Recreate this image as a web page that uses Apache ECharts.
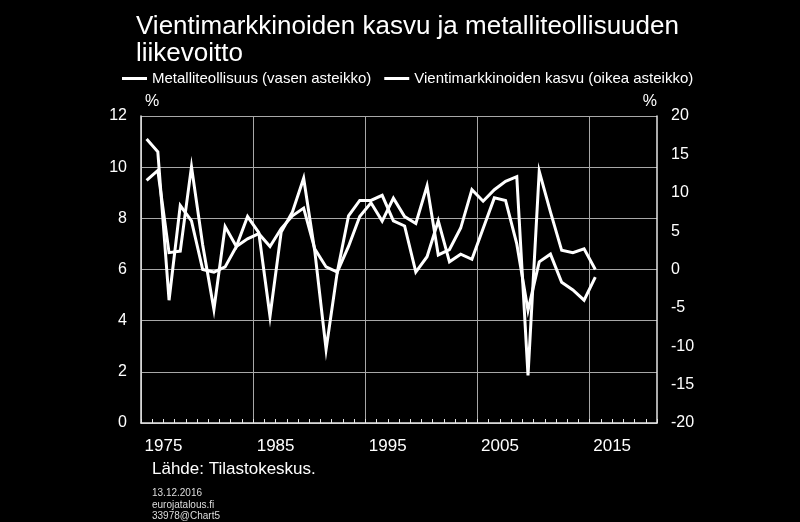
<!DOCTYPE html>
<html>
<head>
<meta charset="utf-8">
<script src="https://cdn.jsdelivr.net/npm/echarts@6/dist/echarts.min.js"></script>
<style>
	html, body { margin: 0; padding: 0; background: #000; }
	#chart { width: 800px; height: 522px; }
</style>
</head>
<body>
<div id="chart"></div>
<script>
// vuosikategoriat (yksi kaista per vuosi) ja vuosirajat akselin merkinnöille
var years = [];
for (var y = 1973; y <= 2018; y++) years.push(String(y));
var yearBounds = [];
for (var y = 1973; y <= 2019; y++) yearBounds.push(String(y));

// Metalliteollisuus, liikevoitto % (vasen asteikko)
var metalli = [11.1, 10.6, 4.8, 8.5, 7.9, 6.0, 5.9, 6.1, 6.9, 7.2, 7.4, 6.9, 7.6, 8.1, 8.4, 6.8, 6.1, 5.9, 8.1, 8.7,
	8.7, 8.9, 7.9, 7.7, 5.9, 6.5, 7.9, 6.3, 6.6, 6.4, 7.6, 8.8, 8.7, 7.0, 4.4, 6.3, 6.6, 5.5, 5.2, 4.8, 5.7];
// Vientimarkkinoiden kasvu % (oikea asteikko)
var vienti = [11.6, 12.9, 2.2, 2.4, 13.4, 3.2, -5.2, 5.6, 3.0, 6.9, 4.8, -6.1, 4.9, 7.5, 11.9, 2.3, -10.4, -0.3, 3.0, 6.9,
	8.7, 6.3, 9.3, 6.9, 6.0, 10.9, 1.9, 2.6, 5.4, 10.4, 8.9, 10.4, 11.5, 12.1, -13.8, 12.8, 7.5, 2.5, 2.2, 2.7, 0.0];

var xLabels = ['1975', '1985', '1995', '2005', '2015'];
var gridYears = ['1973', '1983', '1993', '2003', '2013'];
var leftTicks = { min: 0, max: 12, step: 2 };
var rightTicks = { min: -20, max: 20, step: 5 };

var font = 'Liberation Sans, Arial, sans-serif';
var chart = echarts.init(document.getElementById('chart'));

var option = {
	backgroundColor: '#000',
	animation: false,
	textStyle: { fontFamily: font },
	title: {
		text: 'Vientimarkkinoiden kasvu ja metalliteollisuuden\nliikevoitto',
		left: 131,
		top: 8,
		textStyle: { color: '#fff', fontSize: 26, fontWeight: 'normal', lineHeight: 27, fontFamily: font }
	},
	legend: {
		left: 117,
		top: 66,
		icon: 'rect',
		itemWidth: 25,
		itemHeight: 3,
		itemGap: 13,
		textStyle: { color: '#fff', fontSize: 15, fontFamily: font },
		data: ['Metalliteollisuus (vasen asteikko)', 'Vientimarkkinoiden kasvu (oikea asteikko)']
	},
	grid: { left: 141, right: 143, top: 116, bottom: 99 },
	xAxis: [
		{
			type: 'category',
			data: years,
			boundaryGap: true,
			show: false
		},
		{
			type: 'category',
			data: yearBounds,
			boundaryGap: false,
			position: 'bottom',
			axisLine: { show: true, onZero: false, lineStyle: { color: '#e6e6e6', width: 1.5 } },
			axisTick: {
				show: true,
				interval: 0,
				inside: true,
				length: 4,
				lineStyle: { color: '#e6e6e6', width: 1 }
			},
			axisLabel: {
				interval: function (i, v) { return xLabels.indexOf(v) >= 0; },
				color: '#fff',
				fontSize: 17,
				margin: 15,
				fontFamily: font
			},
			splitLine: {
				show: true,
				interval: function (i, v) { return gridYears.indexOf(v) >= 0; },
				lineStyle: { color: '#a8a8a8', width: 1 }
			}
		}
	],
	yAxis: [
		{
			type: 'value',
			min: leftTicks.min,
			max: leftTicks.max,
			interval: leftTicks.step,
			position: 'left',
			name: '%',
			nameLocation: 'end',
			nameGap: 6,
			nameTextStyle: { color: '#fff', fontSize: 16, align: 'left', padding: [0, 0, 0, 4], fontFamily: font },
			axisLine: { show: true, onZero: false, lineStyle: { color: '#e6e6e6', width: 1.5 } },
			axisTick: { show: false },
			axisLabel: { color: '#fff', fontSize: 16, margin: 14, fontFamily: font },
			splitLine: { show: true, lineStyle: { color: '#a8a8a8', width: 1 } }
		},
		{
			type: 'value',
			min: rightTicks.min,
			max: rightTicks.max,
			interval: rightTicks.step,
			position: 'right',
			name: '%',
			nameLocation: 'end',
			nameGap: 6,
			nameTextStyle: { color: '#fff', fontSize: 16, align: 'right', fontFamily: font },
			axisLine: { show: true, onZero: false, lineStyle: { color: '#e6e6e6', width: 1.5 } },
			axisTick: { show: false },
			axisLabel: { color: '#fff', fontSize: 16, margin: 14, fontFamily: font },
			splitLine: { show: false }
		}
	],
	graphic: [
		{ type: 'text', left: 152, top: 461, style: { text: 'Lähde: Tilastokeskus.', fill: '#fff', font: '17px ' + font } },
		{ type: 'text', left: 152, top: 488, style: { text: '13.12.2016', fill: '#ddd', font: '10px ' + font } },
		{ type: 'text', left: 152, top: 500, style: { text: 'eurojatalous.fi', fill: '#ddd', font: '10px ' + font } },
		{ type: 'text', left: 152, top: 511, style: { text: '33978@Chart5', fill: '#ddd', font: '10px ' + font } }
	],
	series: [
		{
			name: 'Metalliteollisuus (vasen asteikko)',
			type: 'line',
			xAxisIndex: 0,
			yAxisIndex: 0,
			data: metalli,
			symbol: 'none',
			color: '#fff',
			lineStyle: { color: '#fff', width: 3, join: 'miter' }
		},
		{
			name: 'Vientimarkkinoiden kasvu (oikea asteikko)',
			type: 'line',
			xAxisIndex: 0,
			yAxisIndex: 1,
			data: vienti,
			symbol: 'none',
			color: '#fff',
			lineStyle: { color: '#fff', width: 3, join: 'miter' }
		}
	]
};
chart.setOption(option);
</script>
</body>
</html>
